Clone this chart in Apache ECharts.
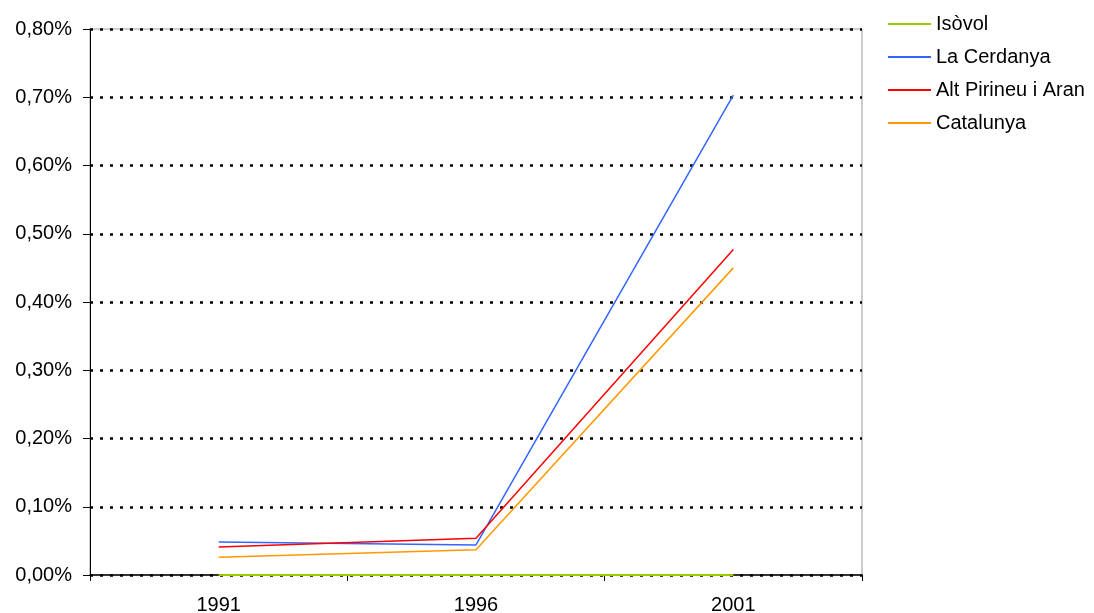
<!DOCTYPE html>
<html lang="ca">
<head>
    <meta charset="UTF-8">
    <title>Isòvol</title>
    <style>
        html, body { margin: 0; padding: 0; background: #fff; }
    </style>
</head>
<body>
<script src="https://cdn.jsdelivr.net/npm/echarts@6/dist/echarts.min.js"></script>
<div id="main" style="width: 1094px;height:613px;"></div>

<script>
    // anys
    var years = ['1991', '1996', '2001'];

    // valors en %
    var isovol = [0, 0, 0];
    var cerdanya = [0.0483, 0.044, 0.703];
    var altPirineu = [0.041, 0.054, 0.477];
    var catalunya = [0.026, 0.037, 0.450];

    var seriesNames = ['Isòvol', 'La Cerdanya', 'Alt Pirineu i Aran', 'Catalunya'];
    var seriesColors = ['#99CC00', '#3366FF', '#FF0000', '#FF9900'];
    var seriesData = [isovol, cerdanya, altPirineu, catalunya];

    var myChart = echarts.init(document.getElementById('main'));

    var font = 'Liberation Sans, Arial, sans-serif';

    var series = [];
    for (var i = 0; i < seriesNames.length; i++) {
        series.push({
            name: seriesNames[i],
            type: 'line',
            data: seriesData[i],
            symbol: 'none',
            color: seriesColors[i],
            lineStyle: { width: i === 0 ? 2 : 1.5, color: seriesColors[i] },
            z: i === 0 ? 6 : 5
        });
    }

    var option = {
        animation: false,
        backgroundColor: '#fff',
        grid: {
            left: 90, right: 232, top: 29, bottom: 38,
            outerBoundsMode: 'none',
            containLabel: false,
            show: true,
            borderColor: '#9a9a9a',
            borderWidth: 1
        },
        legend: {
            orient: 'vertical',
            left: 883,
            top: 8,
            itemWidth: 43,
            itemHeight: 2,
            itemGap: 11,
            icon: 'rect',
            textStyle: { fontFamily: font, fontSize: 20, color: '#000', lineHeight: 22 },
            data: seriesNames
        },
        xAxis: {
            type: 'category',
            data: years,
            boundaryGap: true,
            z: 3,
            axisLine: { lineStyle: { color: '#000', width: 1.5 } },
            axisTick: { show: true, length: 6, lineStyle: { color: '#000' } },
            axisLabel: { fontFamily: font, fontSize: 20, color: '#000', margin: 20 },
            splitLine: { show: false }
        },
        yAxis: {
            type: 'value',
            min: 0,
            max: 0.8,
            interval: 0.1,
            z: 2,
            axisLine: { show: true, lineStyle: { color: '#000', width: 1 } },
            axisTick: { show: true, length: 7, lineStyle: { color: '#000' } },
            axisLabel: {
                fontFamily: font, fontSize: 20, color: '#000', margin: 18,
                formatter: function (v) { return v.toFixed(2).replace('.', ',') + '%'; }
            },
            splitLine: {
                show: true,
                lineStyle: { color: '#000', width: 2.5, type: [3, 7] }
            }
        },
        series: series
    };

    myChart.setOption(option);
</script>
</body>
</html>
